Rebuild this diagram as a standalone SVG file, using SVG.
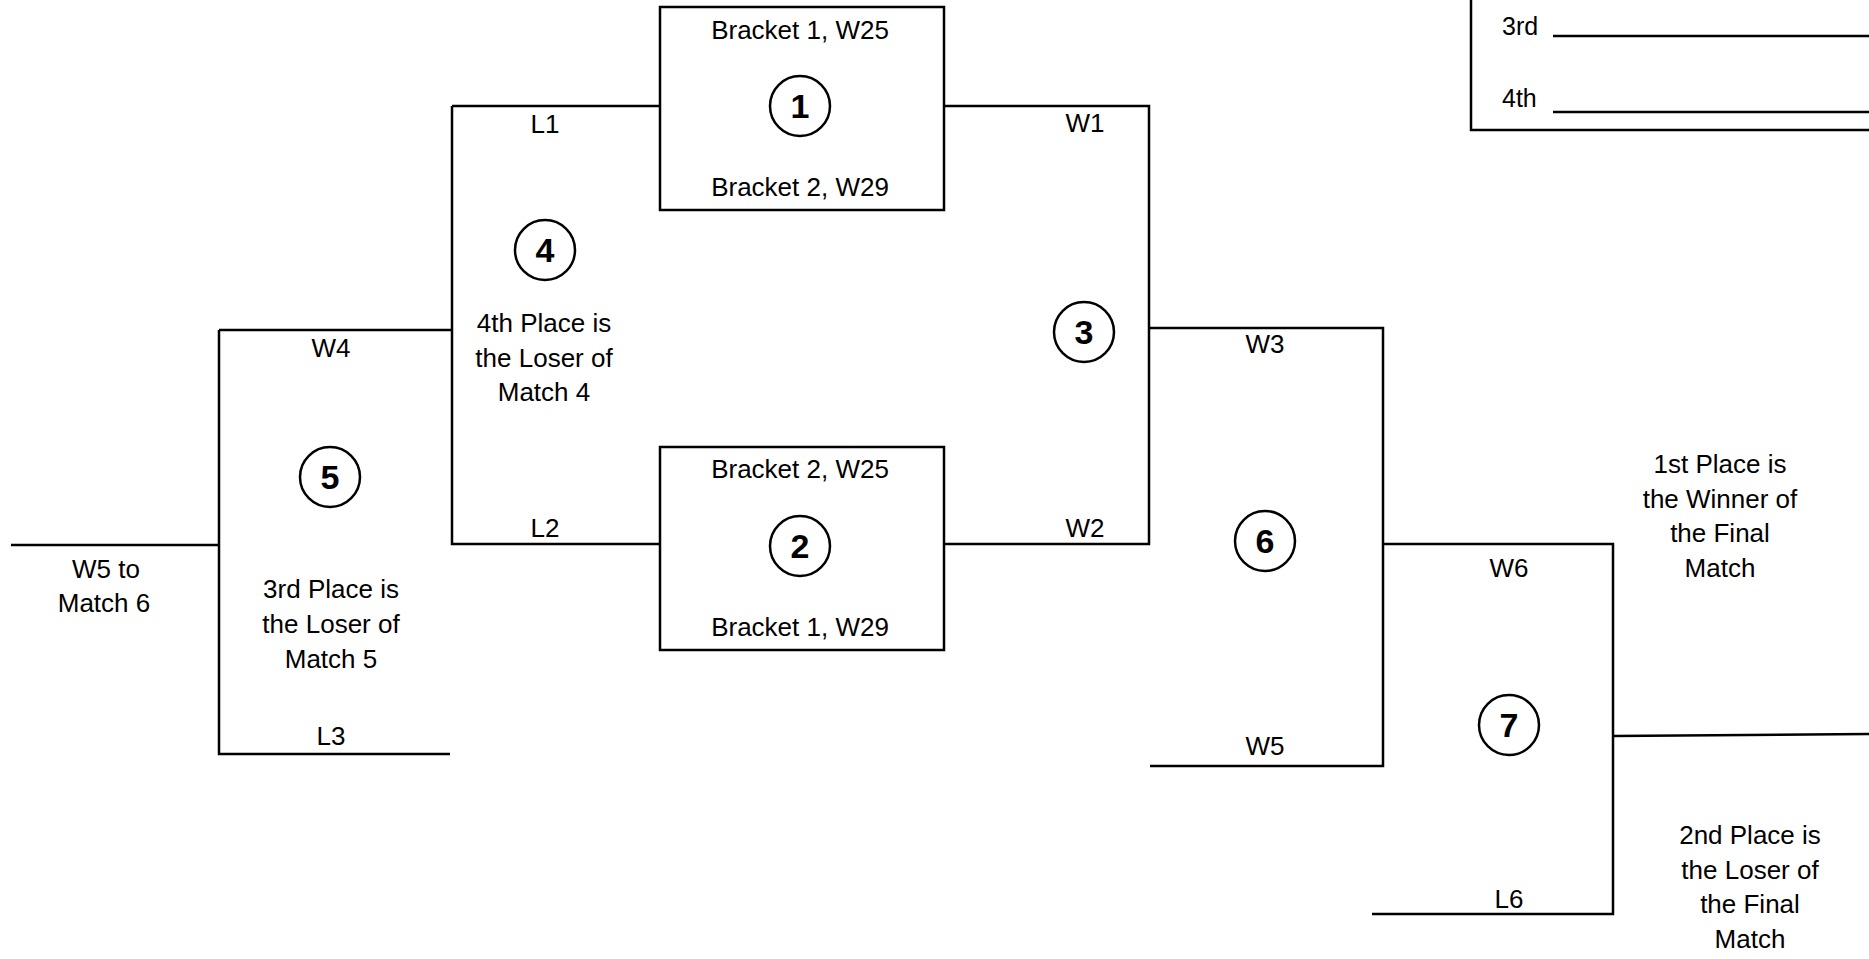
<svg xmlns="http://www.w3.org/2000/svg" width="1869" height="959" viewBox="0 0 1869 959">
<style>
.ln{fill:none;stroke:#000;stroke-width:2.5}
.bx{fill:#fff;stroke:#000;stroke-width:2.5}
.cr{fill:#fff;stroke:#000;stroke-width:2.5}
text{font-family:"Liberation Sans",Arial,sans-serif;fill:#000}
.t{font-size:26px;text-anchor:middle}
.n{font-size:34px;font-weight:bold;text-anchor:middle}
.s{font-size:25px}
</style>
<rect width="1869" height="959" fill="#fff"/>
<g id="connectors">
<path class="ln" d="M452,106 H660"/>
<path class="ln" d="M452,106 V544 H660"/>
<path class="ln" d="M219,330 H452"/>
<path class="ln" d="M11,545 H219"/>
<path class="ln" d="M219,330 V754 H450"/>
<path class="ln" d="M944,106 H1149 V544 H944"/>
<path class="ln" d="M1149,328 H1383 V766 H1150"/>
<path class="ln" d="M1383,544 H1613 V914 H1372"/>
<path class="ln" d="M1613,736 L1869,734"/>
</g>
<g id="standings">
<path class="ln" d="M1471,-10 V130 H1880"/>
<text class="s" x="1502" y="35">3rd</text>
<path class="ln" d="M1553,36 H1869"/>
<text class="s" x="1502" y="107">4th</text>
<path class="ln" d="M1553,112 H1869"/>
</g>
<g id="match1">
<rect class="bx" x="660" y="7" width="284" height="203"/>
<text class="t" x="800" y="39">Bracket 1, W25</text>
<circle class="cr" cx="800" cy="106" r="30"/>
<text class="n" x="800" y="118">1</text>
<text class="t" x="800" y="196">Bracket 2, W29</text>
</g>
<g id="match2">
<rect class="bx" x="660" y="447" width="284" height="203"/>
<text class="t" x="800" y="478">Bracket 2, W25</text>
<circle class="cr" cx="800" cy="546" r="30"/>
<text class="n" x="800" y="558">2</text>
<text class="t" x="800" y="636">Bracket 1, W29</text>
</g>
<g id="match3">
<circle class="cr" cx="1084" cy="332" r="30"/>
<text class="n" x="1084" y="344">3</text>
<text class="t" x="1085" y="132">W1</text>
<text class="t" x="1085" y="537">W2</text>
</g>
<g id="match4">
<circle class="cr" cx="545" cy="250" r="30"/>
<text class="n" x="545" y="262">4</text>
<text class="t" x="545" y="133">L1</text>
<text class="t" x="545" y="537">L2</text>
<text class="t" x="544" y="332">4th Place is</text>
<text class="t" x="544" y="367">the Loser of</text>
<text class="t" x="544" y="401">Match 4</text>
</g>
<g id="match5">
<circle class="cr" cx="330" cy="477" r="30"/>
<text class="n" x="330" y="489">5</text>
<text class="t" x="331" y="357">W4</text>
<text class="t" x="331" y="745">L3</text>
<text class="t" x="331" y="598">3rd Place is</text>
<text class="t" x="331" y="633">the Loser of</text>
<text class="t" x="331" y="668">Match 5</text>
<text class="t" x="106" y="578">W5 to</text>
<text class="t" x="104" y="612">Match 6</text>
</g>
<g id="match6">
<circle class="cr" cx="1265" cy="541" r="30"/>
<text class="n" x="1265" y="553">6</text>
<text class="t" x="1265" y="353">W3</text>
<text class="t" x="1265" y="755">W5</text>
</g>
<g id="match7">
<circle class="cr" cx="1509" cy="725" r="30"/>
<text class="n" x="1509" y="737">7</text>
<text class="t" x="1509" y="577">W6</text>
<text class="t" x="1509" y="908">L6</text>
<text class="t" x="1720" y="473">1st Place is</text>
<text class="t" x="1720" y="508">the Winner of</text>
<text class="t" x="1720" y="542">the Final</text>
<text class="t" x="1720" y="577">Match</text>
<text class="t" x="1750" y="844">2nd Place is</text>
<text class="t" x="1750" y="879">the Loser of</text>
<text class="t" x="1750" y="913">the Final</text>
<text class="t" x="1750" y="948">Match</text>
</g>
</svg>
